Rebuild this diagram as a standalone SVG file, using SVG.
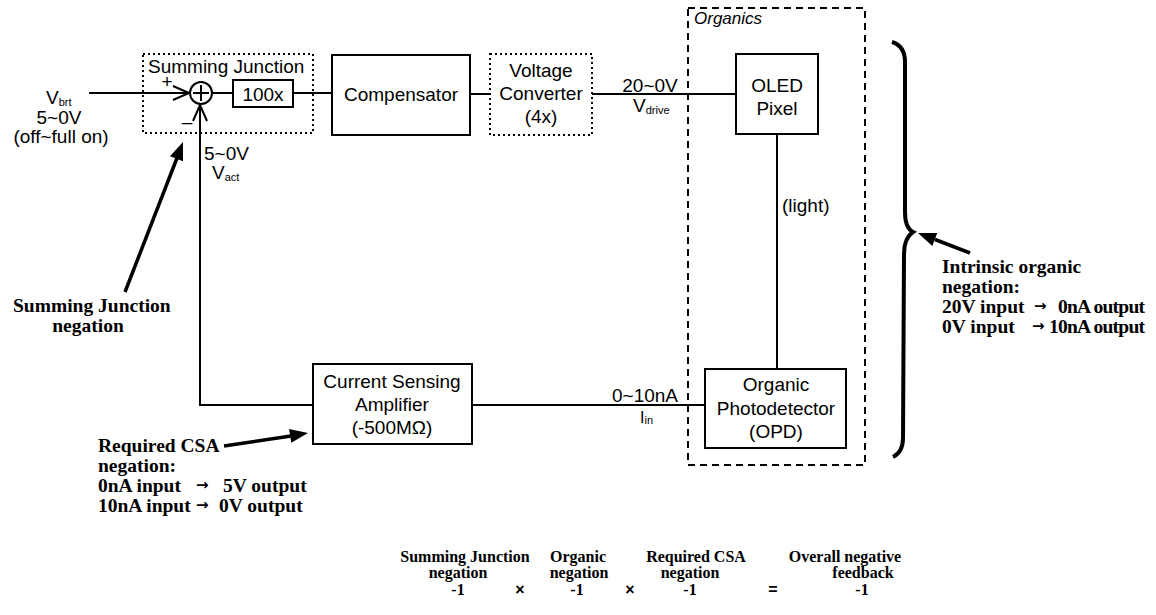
<svg xmlns="http://www.w3.org/2000/svg" width="1156" height="615" viewBox="0 0 1156 615">
<defs>
<style>
.box{fill:#fff;stroke:#000;stroke-width:2}
.dot{fill:none;stroke:#000;stroke-width:2;stroke-dasharray:2 3}
.dash{fill:none;stroke:#000;stroke-width:2;stroke-dasharray:7 5}
.ln{fill:none;stroke:#000;stroke-width:2}
.thk{fill:none;stroke:#000;stroke-width:3.5}
.hd{fill:#000;stroke:none}
.t{font-family:"Liberation Sans",Arial,sans-serif;font-size:19px;fill:#000}
.c{text-anchor:middle}
.i{font-style:italic;font-size:17px}
.sub{font-size:11px;fill:#000}
.b{font-family:"Liberation Serif","Times New Roman",serif;font-weight:bold;font-size:19.5px;fill:#000}
.e{font-family:"Liberation Serif","Times New Roman",serif;font-weight:bold;font-size:16px;fill:#000;text-anchor:middle}
.op{font-family:"Liberation Sans",Arial,sans-serif;font-weight:bold;font-size:16px;fill:#000;text-anchor:middle}
.ar{font-family:"DejaVu Sans",sans-serif;font-size:15px;font-weight:bold}
</style>
<marker id="chev" markerUnits="userSpaceOnUse" viewBox="0 0 20 16" markerWidth="20" markerHeight="16" refX="17" refY="8" orient="auto">
<path d="M1,1 L17,8 L1,15" fill="none" stroke="#000" stroke-width="2"/>
</marker>
</defs>
<rect width="1156" height="615" fill="#fff"/>

<g id="connectors">
<path class="ln" d="M89,93 L189,93" marker-end="url(#chev)"/>
<path class="ln" d="M212,93 L233,93"/>
<path class="ln" d="M293,93 L332,93"/>
<path class="ln" d="M470,94 L490,94"/>
<path class="ln" d="M592,94 L736,94"/>
<path class="ln" d="M777,134 L777,369"/>
<path class="ln" d="M472,405 L705,405"/>
<path class="ln" d="M313,405 L200,405 L200,105" marker-end="url(#chev)"/>
</g>

<g id="input-vbrt">
<text class="t" x="46" y="104">V<tspan class="sub" dy="2">brt</tspan></text>
<text class="t c" x="59" y="124">5~0V</text>
<text class="t c" x="61" y="143">(off~full on)</text>
</g>

<g id="summing-junction">
<rect class="dot" x="143" y="54" width="170" height="79"/>
<text class="t" x="148" y="73">Summing Junction</text>
<circle cx="201" cy="93" r="11" fill="#fff" stroke="#000" stroke-width="2"/>
<path class="ln" d="M193,93 H209 M201,85 V101"/>
<text class="t c" x="167" y="88">+</text>
<text class="t c" x="187" y="128">–</text>
</g>

<g id="gain-100x">
<rect class="box" x="233" y="80" width="60" height="27"/>
<text class="t c" x="263" y="101">100x</text>
</g>

<g id="vact-label">
<text class="t" x="204" y="160">5~0V</text>
<text class="t" x="212" y="179">V<tspan class="sub" dy="2">act</tspan></text>
</g>

<g id="compensator">
<rect class="box" x="332" y="55" width="138" height="80"/>
<text class="t c" x="401" y="101">Compensator</text>
</g>

<g id="voltage-converter">
<rect class="dot" x="490" y="54" width="102" height="81"/>
<text class="t c" x="541" y="77">Voltage</text>
<text class="t c" x="541" y="100">Converter</text>
<text class="t c" x="541" y="123">(4x)</text>
</g>

<g id="vdrive-label">
<text class="t c" x="650" y="92">20~0V</text>
<text class="t" x="633" y="112">V<tspan class="sub" dy="2">drive</tspan></text>
</g>

<g id="organics">
<rect class="dash" x="688" y="8" width="177" height="457"/>
<text class="t i" x="694" y="24">Organics</text>
</g>

<g id="oled-pixel">
<rect class="box" x="736" y="54" width="82" height="80"/>
<text class="t c" x="777" y="92">OLED</text>
<text class="t c" x="777" y="115">Pixel</text>
</g>

<g id="light-label">
<text class="t" x="782" y="212">(light)</text>
</g>

<g id="opd">
<rect class="box" x="705" y="369" width="141" height="79"/>
<text class="t c" x="776" y="391">Organic</text>
<text class="t c" x="776" y="415">Photodetector</text>
<text class="t c" x="776" y="438">(OPD)</text>
</g>

<g id="iin-label">
<text class="t c" x="645" y="402">0~10nA</text>
<text class="t" x="640" y="423" style="font-size:16px">I<tspan class="sub" dy="1">in</tspan></text>
</g>

<g id="csa">
<rect class="box" x="313" y="364" width="159" height="80"/>
<text class="t c" x="392" y="388">Current Sensing</text>
<text class="t c" x="392" y="411">Amplifier</text>
<text class="t c" x="392" y="434">(-500MΩ)</text>
</g>

<g id="note-summing">
<line class="thk" x1="125" y1="292" x2="177" y2="158"/>
<polygon class="hd" points="183,142 183,161.3 170,156.3"/>
<text class="b" x="13" y="312">Summing Junction</text>
<text class="b c" x="88" y="332">negation</text>
</g>

<g id="note-csa">
<line class="thk" x1="224" y1="446" x2="291" y2="436"/>
<polygon class="hd" points="308,433 291.3,442.7 289.1,428.9"/>
<text class="b" x="98" y="452">Required CSA</text>
<text class="b" x="98" y="472">negation:</text>
<text class="b" y="492"><tspan x="98">0nA input</tspan><tspan class="ar" x="196" dy="-2">→</tspan><tspan x="223" dy="2">5V output</tspan></text>
<text class="b" y="512"><tspan x="98">10nA input</tspan><tspan class="ar" x="196" dy="-2">→</tspan><tspan x="219" dy="2">0V output</tspan></text>
</g>

<g id="brace">
<path d="M892,42 Q905,46 905,62 L905,212 Q905,228 913,232 Q904,238 904,254 L903,438 Q903,452 893,457" fill="none" stroke="#000" stroke-width="4"/>
</g>

<g id="note-organic">
<line class="thk" x1="970" y1="253" x2="935" y2="239.5"/>
<polygon class="hd" points="918,233 937.3,232.9 932.3,246"/>
<text class="b" x="942" y="273">Intrinsic organic</text>
<text class="b" x="942" y="293">negation:</text>
<text class="b" y="313"><tspan x="942">20V input</tspan><tspan class="ar" x="1034" dy="-2">→</tspan><tspan x="1058" dy="2" textLength="87">0nA output</tspan></text>
<text class="b" y="333"><tspan x="942">0V input</tspan><tspan class="ar" x="1032" dy="-2">→</tspan><tspan x="1049" dy="2" textLength="96">10nA output</tspan></text>
</g>

<g id="equation">
<text class="e" x="465" y="562">Summing Junction</text>
<text class="e" x="458" y="578">negation</text>
<text class="e" x="458" y="595">-1</text>
<text class="op" x="520" y="595">×</text>
<text class="e" x="578" y="562">Organic</text>
<text class="e" x="579" y="578">negation</text>
<text class="e" x="577" y="595">-1</text>
<text class="op" x="630" y="595">×</text>
<text class="e" x="696" y="562">Required CSA</text>
<text class="e" x="690" y="578">negation</text>
<text class="e" x="690" y="595">-1</text>
<text class="op" x="773" y="595">=</text>
<text class="e" x="845" y="562">Overall negative</text>
<text class="e" x="863" y="578">feedback</text>
<text class="e" x="862" y="595">-1</text>
</g>
</svg>
